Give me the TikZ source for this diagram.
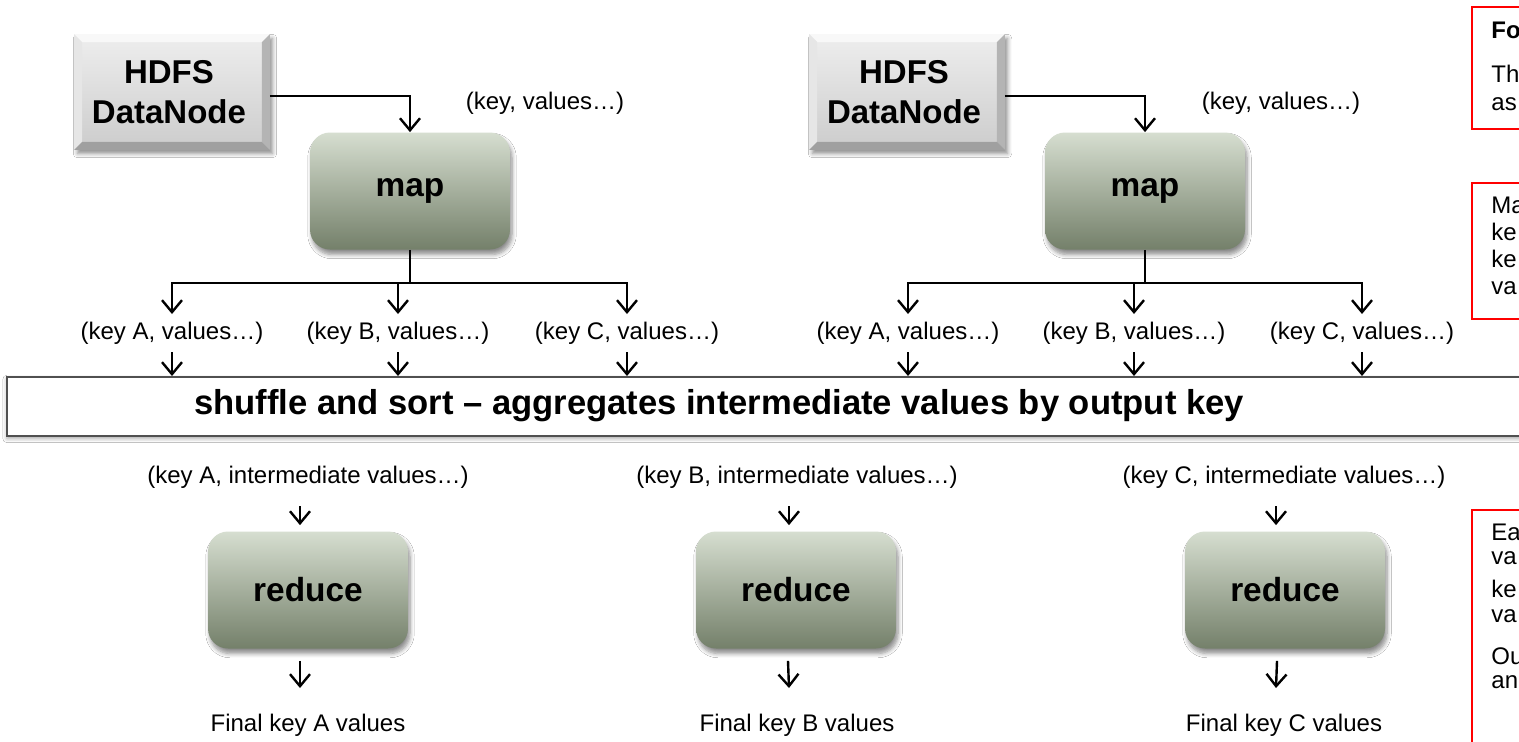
\documentclass[tikz,border=0pt]{standalone}
\usepackage{fontspec}
\setmainfont{Liberation Sans}
\usetikzlibrary{arrows.meta,shadows.blur,calc}

\definecolor{mapTop}{RGB}{214,222,208}
\definecolor{mapMid}{RGB}{172,182,164}
\definecolor{mapBot}{RGB}{116,128,106}
\definecolor{hdfsTop}{RGB}{238,238,238}
\definecolor{hdfsBot}{RGB}{204,204,204}
\definecolor{bevLight}{RGB}{248,248,248}
\definecolor{bevSide}{RGB}{230,230,230}
\definecolor{bevDark}{RGB}{180,180,180}
\definecolor{bevDarker}{RGB}{160,160,160}
\definecolor{noteRed}{RGB}{255,0,0}
\definecolor{shufEdge}{RGB}{80,80,80}

% bevel strips around a named HDFS box
\newcommand\bevelbox[1]{%
  \fill[bevLight] (#1.north west) -- (#1.north east) -- ($(#1.north east)+(-8,8)$) -- ($(#1.north west)+(8,8)$) -- cycle;
  \fill[bevSide] (#1.north west) -- ($(#1.north west)+(8,8)$) -- ($(#1.south west)+(8,-8)$) -- (#1.south west) -- cycle;
  \fill[bevDark] (#1.north east) -- ($(#1.north east)+(-8,8)$) -- ($(#1.south east)+(-8,-8)$) -- (#1.south east) -- cycle;
  \fill[bevDarker] (#1.south west) -- ($(#1.south west)+(8,-8)$) -- ($(#1.south east)+(-8,-8)$) -- (#1.south east) -- cycle;
}

\begin{document}
\begin{tikzpicture}[x=0.5pt,y=-0.5pt,
  hdfs/.style={rectangle, minimum width=97.5pt, minimum height=57.5pt, inner sep=0pt,
    top color=hdfsTop, bottom color=hdfsBot,
    blur shadow={shadow xshift=1.5pt, shadow yshift=-2pt, shadow blur steps=6, shadow opacity=45}},
  hdfstxt/.style={font=\fontsize{16.5}{20}\selectfont\bfseries, align=center, inner sep=0pt},
  task/.style={rectangle, rounded corners=10pt, minimum width=100pt, minimum height=58.5pt, inner sep=0pt,
    top color=mapTop, middle color=mapMid, bottom color=mapBot,
    font=\fontsize{16.7}{20}\selectfont\bfseries,
    blur shadow={shadow xshift=1pt, shadow yshift=-2.5pt, shadow blur steps=6, shadow opacity=45}},
  lbl/.style={font=\fontsize{12}{14}\selectfont, inner sep=0pt, text height=9pt, text depth=3pt, outer sep=3.5pt},
  conn/.style={line width=1.2pt, black},
  arr/.style={conn, -{Straight Barb[length=6pt,width=10pt]}},
  note/.style={draw=noteRed, line width=1pt, rectangle, anchor=north west, inner sep=0pt},
  notetxt/.style={font=\fontsize{12}{14}\selectfont, anchor=base west, inner sep=0pt},
]
\clip (0,0) rectangle (1519,741);
\fill[white] (0,0) rectangle (1519,741);

% ---------- first data node and mapper ----------
\node[hdfs] (h1) at (172,92) {};
\bevelbox{h1}
\node[hdfstxt] (h1t) at (169,92) {HDFS\\DataNode};
\node[task] (m1) at (410,191) {map};
\node[lbl] (in1) at (545,103) {(key, values…)};
\draw[arr] ([yshift=-2pt]h1.east) -| (m1.north);

\coordinate (b1) at (410,283);
\node[lbl] (kA1) at (172,333) {(key A, values…)};
\node[lbl] (kB1) at (398,333) {(key B, values…)};
\node[lbl] (kC1) at (627,333) {(key C, values…)};
\draw[conn] (m1.south) -- (b1);
\draw[arr] (b1) -| (kA1.north);
\draw[arr] (b1) -| (kB1.north);
\draw[arr] (b1) -| (kC1.north);

% ---------- second data node and mapper ----------
\node[hdfs] (h2) at (907,92) {};
\bevelbox{h2}
\node[hdfstxt] (h2t) at (904,92) {HDFS\\DataNode};
\node[task] (m2) at (1145,191) {map};
\node[lbl] (in2) at (1281,103) {(key, values…)};
\draw[arr] ([yshift=-2pt]h2.east) -| (m2.north);

\coordinate (b2) at (1145,283);
\node[lbl] (kA2) at (908,333) {(key A, values…)};
\node[lbl] (kB2) at (1134,333) {(key B, values…)};
\node[lbl] (kC2) at (1362,333) {(key C, values…)};
\draw[conn] (m2.south) -- (b2);
\draw[arr] (b2) -| (kA2.north);
\draw[arr] (b2) -| (kB2.north);
\draw[arr] (b2) -| (kC2.north);

% ---------- shuffle stage ----------
\node[rectangle, draw=shufEdge, line width=1pt, fill=white, minimum width=761.5pt, minimum height=29.5pt,
  blur shadow={shadow xshift=0pt, shadow yshift=-1.2pt, shadow blur steps=3, shadow opacity=35}] (sh) at (768.5,406.5) {};
\node[font=\fontsize{17.3}{20}\selectfont\bfseries, inner sep=0pt] (sht) at (719,406)
  {shuffle and sort – aggregates intermediate values by output key};
\foreach \k in {kA1,kB1,kC1,kA2,kB2,kC2}
  \draw[arr] (\k.south) -- (\k.south |- sh.north);

% ---------- reducers ----------
\node[lbl] (rA) at (308,477) {(key A, intermediate values…)};
\node[lbl] (rB) at (797,477) {(key B, intermediate values…)};
\node[lbl] (rC) at (1284,477) {(key C, intermediate values…)};
\node[task] (redA) at (308,590) {reduce};
\node[task] (redB) at (796,590) {reduce};
\node[task] (redC) at (1285,590) {reduce};
\node[lbl] (fA) at (308,725) {Final key A values};
\node[lbl] (fB) at (797,725) {Final key B values};
\node[lbl] (fC) at (1284,725) {Final key C values};
\foreach \r/\b/\f in {rA/redA/fA, rB/redB/fB, rC/redC/fC} {
  \draw[arr] ([xshift=-4pt,yshift=-5pt]\r.south) -- ([xshift=-4pt,yshift=3pt]\b.north -| \r.south);
  \draw[arr] ([xshift=-4pt,yshift=-6pt]\b.south) -- ([xshift=-4pt,yshift=9pt]\f.north);
}

% ---------- side notes ----------
\node[note, minimum width=34.5pt, minimum height=61pt] (n1) at (1471,6) {};
\node[notetxt, font=\fontsize{12}{14}\selectfont\bfseries] (n1a) at (1491,38) {Fo};
\node[notetxt] (n1b) at (1491,82) {Th};
\node[notetxt] (n1c) at (1491,110) {as};

\node[note, minimum width=34.5pt, minimum height=68pt] (n2) at (1471,182) {};
\node[notetxt] (n2a) at (1491,213) {Ma};
\node[notetxt] (n2b) at (1491,240) {ke};
\node[notetxt] (n2c) at (1491,267) {ke};
\node[notetxt] (n2d) at (1491,294) {va};

\node[note, minimum width=34.5pt, minimum height=130pt] (n3) at (1471,509) {};
\node[notetxt] (n3a) at (1491,540) {Ea};
\node[notetxt] (n3b) at (1491,564) {va};
\node[notetxt] (n3c) at (1491,597) {ke};
\node[notetxt] (n3d) at (1491,622) {va};
\node[notetxt] (n3e) at (1491,664) {Ou};
\node[notetxt] (n3f) at (1491,688) {an};
\end{tikzpicture}
\end{document}
